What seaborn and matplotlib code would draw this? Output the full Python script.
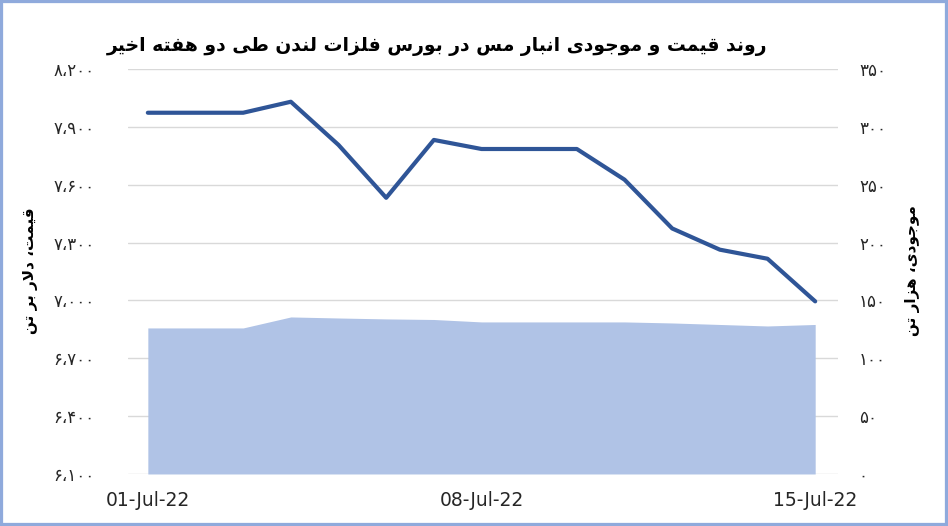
import pandas as pd
import matplotlib.pyplot as plt
import seaborn as sns
from matplotlib.patches import Rectangle

# data (weekend values carried forward)
dates = ["2022-07-01", "2022-07-02", "2022-07-03", "2022-07-04", "2022-07-05",
         "2022-07-06", "2022-07-07", "2022-07-08", "2022-07-09", "2022-07-10",
         "2022-07-11", "2022-07-12", "2022-07-13", "2022-07-14", "2022-07-15"]
price = [7973, 7973, 7973, 8030, 7806, 7532, 7832, 7785, 7785, 7785,
         7626, 7373, 7263, 7216, 6995]
stock = [126.2, 126.2, 126.2, 135.7, 134.8, 134.0, 133.5, 131.4, 131.4, 131.4,
         131.4, 130.5, 129.2, 127.9, 129.2]
price_ticks = [6100, 6400, 6700, 7000, 7300, 7600, 7900, 8200]
stock_ticks = [0, 50, 100, 150, 200, 250, 300, 350]
xtick_dates = ["2022-07-01", "2022-07-08", "2022-07-15"]

title = "روند قیمت و موجودی انبار مس در بورس فلزات لندن طی دو هفته اخیر"
left_label = "قیمت، دلار بر تن"
right_label = "موجودی، هزار تن"

# matplotlib has no arabic shaping, so pick presentation forms by hand
FORMS = {
    "ا": ("\uFE8D", "\uFE8E"), "د": ("\uFEA9", "\uFEAA"), "ذ": ("\uFEAB", "\uFEAC"),
    "ر": ("\uFEAD", "\uFEAE"), "ز": ("\uFEAF", "\uFEB0"), "و": ("\uFEED", "\uFEEE"),
    "ب": ("\uFE8F", "\uFE90", "\uFE91", "\uFE92"), "ت": ("\uFE95", "\uFE96", "\uFE97", "\uFE98"),
    "ج": ("\uFE9D", "\uFE9E", "\uFE9F", "\uFEA0"), "خ": ("\uFEA5", "\uFEA6", "\uFEA7", "\uFEA8"),
    "س": ("\uFEB1", "\uFEB2", "\uFEB3", "\uFEB4"), "ط": ("\uFEC1", "\uFEC2", "\uFEC3", "\uFEC4"),
    "ف": ("\uFED1", "\uFED2", "\uFED3", "\uFED4"), "ق": ("\uFED5", "\uFED6", "\uFED7", "\uFED8"),
    "ل": ("\uFEDD", "\uFEDE", "\uFEDF", "\uFEE0"), "م": ("\uFEE1", "\uFEE2", "\uFEE3", "\uFEE4"),
    "ن": ("\uFEE5", "\uFEE6", "\uFEE7", "\uFEE8"), "ه": ("\uFEE9", "\uFEEA", "\uFEEB", "\uFEEC"),
    "ی": ("\uFBFC", "\uFBFD", "\uFBFE", "\uFBFF"),
}


def shape(text):
    text = text.replace("لا", "\uFEFB")
    out = []
    for i, ch in enumerate(text):
        if ch == "\uFEFB":
            prev = text[i - 1] if i > 0 else ""
            out.append("\uFEFC" if len(FORMS.get(prev, ())) == 4 else ch)
            continue
        if ch not in FORMS:
            out.append(ch)
            continue
        prev = text[i - 1] if i > 0 else ""
        nxt = text[i + 1] if i + 1 < len(text) else ""
        join_prev = len(FORMS.get(prev, ())) == 4
        join_next = len(FORMS[ch]) == 4 and (nxt in FORMS or nxt == "\uFEFB")
        f = FORMS[ch]
        if join_prev and join_next:
            out.append(f[3])
        elif join_next:
            out.append(f[2])
        elif join_prev:
            out.append(f[1])
        else:
            out.append(f[0])
    return "".join(out)[::-1]


def fa_num(v):
    s = f"{v:,}".replace(",", "،")
    return "".join(chr(0x06F0 + int(c)) if c.isdigit() else c for c in s)


df = pd.DataFrame({"date": pd.to_datetime(dates), "price": price, "stock": stock})

sns.set_style("white")
plt.rcParams["font.family"] = ["DejaVu Sans"]

fig = plt.figure(figsize=(9.48, 5.26), dpi=100)
ax = fig.add_axes([0.135, 0.0989, 0.749, 0.770])
ax2 = ax.twinx()
ax.set_zorder(ax2.get_zorder() + 1)
ax.patch.set_visible(False)

# inventory area on the right axis
ax2.fill_between(df["date"], 0, df["stock"], color="#B0C3E6", linewidth=0, zorder=2)
ax2.set_ylim(0, 350)
ax2.set_yticks(stock_ticks)
ax2.set_yticklabels([fa_num(v) for v in stock_ticks])
ax2.grid(axis="y", color="#D9D9D9", linewidth=1)
ax2.set_axisbelow(True)
ax2.tick_params(axis="y", length=0, pad=15, labelsize=12, labelcolor="#262626")

# price line on the left axis
sns.lineplot(data=df, x="date", y="price", ax=ax, color="#2F5597", linewidth=3.0)
ax.set_ylim(6100, 8200)
ax.set_yticks(price_ticks)
ax.set_yticklabels([fa_num(v) for v in price_ticks])
ax.tick_params(axis="y", length=0, pad=24, labelsize=12, labelcolor="#262626")
ax.grid(False)

xt = pd.to_datetime(xtick_dates)
ax.set_xticks(xt)
ax.set_xticklabels([d.strftime("%d-%b-%y") for d in xt])
ax.tick_params(axis="x", length=0, pad=12, labelsize=13.5, labelcolor="#262626")
ax.set_xlim(df["date"].iloc[0] - pd.Timedelta(hours=10),
            df["date"].iloc[-1] + pd.Timedelta(hours=11.5))
ax.set_xlabel("")
ax.set_ylabel("")

for a in (ax, ax2):
    for sp in a.spines.values():
        sp.set_visible(False)

fig.text(0.461, 0.912, shape(title), ha="center", va="center",
         fontsize=13.5, fontweight="bold", color="black")
fig.text(0.032, 0.485, shape(left_label), ha="center", va="center",
         rotation=90, fontsize=11, fontweight="bold", color="black")
fig.text(0.963, 0.485, shape(right_label), ha="center", va="center",
         rotation=90, fontsize=11, fontweight="bold", color="black")

fig.patches.append(Rectangle((0, 0), 1, 1, transform=fig.transFigure, fill=False,
                             edgecolor="#8FAADC", linewidth=4.5))

fig.savefig("out.png", dpi=100)
